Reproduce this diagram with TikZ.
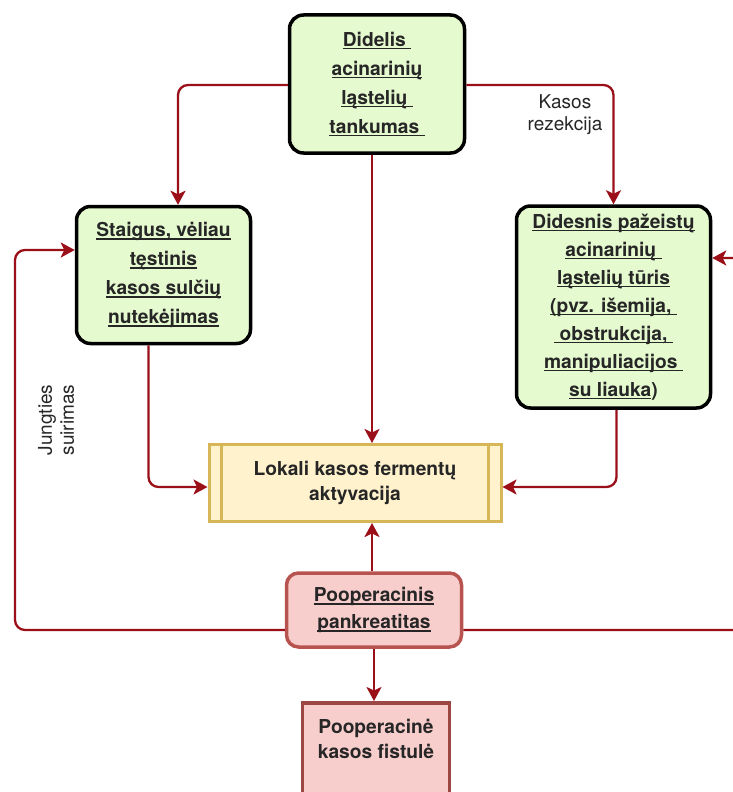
\documentclass[tikz,border=0pt]{standalone}
\usepackage{fontspec}
\setmainfont{TeX Gyre Heros}
\usetikzlibrary{arrows.meta}
\definecolor{flowred}{RGB}{155,15,25}
\definecolor{causefill}{RGB}{230,250,208}
\definecolor{actfill}{RGB}{255,242,204}
\definecolor{actline}{RGB}{214,182,86}
\definecolor{pancfill}{RGB}{248,206,204}
\definecolor{pancline}{RGB}{184,84,80}
\newsavebox\ulbox
\newcommand\undl[1]{\sbox\ulbox{#1}\rlap{\rule[-3pt]{\wd\ulbox}{1.1pt}}\usebox\ulbox}

\begin{document}
\begin{tikzpicture}[x=1pt, y=-1pt,
  cause/.style={draw=black, line width=3.5pt, fill=causefill, rounded corners=14pt,
                align=center, inner sep=2pt, text=black!85,
                font=\bfseries\fontsize{19.2}{29}\selectfont},
  actbox/.style={draw=actline, line width=3pt, fill=actfill, align=center,
                 text=black!85, font=\bfseries\fontsize{19.2}{25}\selectfont},
  pancbox/.style={draw=pancline, line width=3.5pt, fill=pancfill, align=center,
                  text=black!85, font=\bfseries\fontsize{19.2}{27}\selectfont},
  flow/.style={draw=flowred, line width=2.3pt, rounded corners=10pt,
               -{Stealth[length=14pt,width=15pt,inset=3.5pt]}},
  note/.style={font=\fontsize{19}{22}\selectfont, text=black!85, align=center},
]
\useasboundingbox (0,0) rectangle (733,792);
% ---- causes
\node[cause, minimum width=175, minimum height=138] (dens) at (377,84)
  {\undl{Didelis\ }\\ \undl{acinarinių}\\ \undl{ląstelių\ }\\ \undl{tankumas\ }};
\node[cause, minimum width=174, minimum height=137] (leak) at (163.5,275)
  {\undl{Staigus, vėliau}\\ \undl{tęstinis}\\ \undl{kasos sulčių}\\ \undl{nutekėjimas}};
\node[cause, minimum width=194, minimum height=202, font=\bfseries\fontsize{19.2}{28}\selectfont] (vol) at (613.5,307)
  {\undl{Didesnis pažeistų}\\ \undl{acinarinių\ }\\ \undl{ląstelių tūris}\\ \undl{(pvz. išemija,\ }\\
   \undl{\ obstrukcija,\ }\\ \undl{manipuliacijos\ }\\ \undl{su liauka})};
% ---- activation (process box with side bars)
\node[actbox, minimum width=292, minimum height=77] (act) at (355,483)
  {Lokali kasos fermentų\\aktyvacija};
\draw[actline, line width=3pt] ([xshift=14pt]act.north west) -- ([xshift=14pt]act.south west);
\draw[actline, line width=3pt] ([xshift=-14pt]act.north east) -- ([xshift=-14pt]act.south east);
% ---- outcomes
\node[pancbox, rounded corners=12pt, minimum width=175, minimum height=74] (panc) at (374,610)
  {\undl{Pooperacinis}\\ \undl{pankreatitas}};
\node[pancbox, draw=pancline!85!black, anchor=north, minimum width=147, inner ysep=16pt,
      text depth=90pt, font=\bfseries\fontsize{19.2}{25}\selectfont] (fist) at (376,701)
  {Pooperacinė\\kasos fistulė};
% ---- connectors
\draw[flow] ([yshift=-1pt]dens.west) -| ([xshift=14.5pt]leak.north);
\draw[flow] ([yshift=-1pt]dens.east) -| (vol.north);
\node[note] (resect) at (565,115) {Kasos\\rezekcija};
\coordinate (dtop) at ([xshift=-5pt]dens.south);
\draw[flow] (dtop) -- (dtop |- act.north);
\draw[flow] ([xshift=-15pt]leak.south) |- ([yshift=-4pt]act.west);
\draw[flow] ([xshift=3pt]vol.south) |- ([yshift=-4pt]act.east);
\coordinate (ptop) at ([xshift=-2pt]panc.north);
\draw[flow] (ptop) -- (ptop |- act.south);
\draw[flow] (panc.south) -- (panc.south |- fist.north);
% feedback loops round the outside
\coordinate (lfar) at (15,630);
\coordinate (rfar) at (745,630);
\draw[flow] ([yshift=-20pt]panc.west) -- (lfar) |- ([yshift=25pt]leak.west);
\draw[flow] ([yshift=-20pt]panc.east) -- (rfar) |- ([yshift=49pt]vol.east);
\node[note, rotate=90] (joint) at (56,420) {Jungties\\suirimas};
\end{tikzpicture}
\end{document}
